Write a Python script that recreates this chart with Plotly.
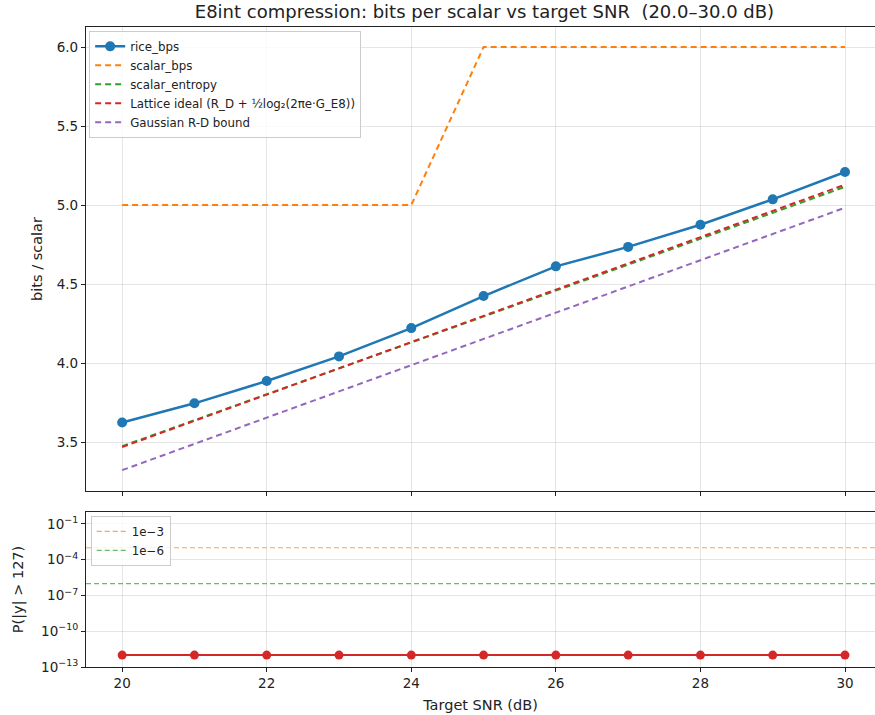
import plotly.graph_objects as go

# Target SNR sweep (dB)
snr_db = [20, 21, 22, 23, 24, 25, 26, 27, 28, 29, 30]

# Bits per scalar for each coder / bound
rice_bps = [3.624, 3.745, 3.886, 4.042, 4.221, 4.424, 4.612, 4.735, 4.875, 5.036, 5.209]
scalar_bps = [5, 5, 5, 5, 5, 6, 6, 6, 6, 6, 6]
scalar_entropy = [3.474, 3.638, 3.802, 3.966, 4.130, 4.294, 4.458, 4.622, 4.786, 4.950, 5.115]
lattice_ideal = [3.468, 3.634, 3.800, 3.966, 4.132, 4.298, 4.464, 4.630, 4.797, 4.963, 5.129]
gaussian_rd = [3.322, 3.488, 3.654, 3.820, 3.986, 4.152, 4.318, 4.484, 4.651, 4.817, 4.983]

# Overflow probability P(|y| > 127)
p_overflow = [1e-12] * 11
ref_levels = [1e-3, 1e-6]
ref_names = ["1e\u22123", "1e\u22126"]

C_BLUE, C_ORANGE, C_GREEN, C_RED, C_PURPLE = "#1f77b4", "#ff7f0e", "#2ca02c", "#d62728", "#9467bd"
FONT = "DejaVu Sans"
GRID = "rgba(0,0,0,0.1)"

fig = go.Figure()

fig.add_trace(go.Scatter(x=snr_db, y=rice_bps, name="rice_bps", mode="lines+markers",
                         line=dict(color=C_BLUE, width=2.5), marker=dict(size=10, color=C_BLUE),
                         xaxis="x", yaxis="y", legend="legend"))
fig.add_trace(go.Scatter(x=snr_db, y=scalar_bps, name="scalar_bps", mode="lines",
                         line=dict(color=C_ORANGE, width=2, dash="6px,4px"),
                         xaxis="x", yaxis="y", legend="legend"))
fig.add_trace(go.Scatter(x=snr_db, y=scalar_entropy, name="scalar_entropy", mode="lines",
                         line=dict(color=C_GREEN, width=2, dash="6px,4px"),
                         xaxis="x", yaxis="y", legend="legend"))
fig.add_trace(go.Scatter(x=snr_db, y=lattice_ideal,
                         name="Lattice ideal (R_D + \u00bdlog\u2082(2\u03c0e\u00b7G_E8))", mode="lines",
                         line=dict(color=C_RED, width=2, dash="6px,4px"),
                         xaxis="x", yaxis="y", legend="legend"))
fig.add_trace(go.Scatter(x=snr_db, y=gaussian_rd, name="Gaussian R-D bound", mode="lines",
                         line=dict(color=C_PURPLE, width=2, dash="6px,4px"),
                         xaxis="x", yaxis="y", legend="legend"))

# Bottom panel: reference levels and overflow probability
for lvl, nm, col in zip(ref_levels, ref_names, [C_ORANGE, C_GREEN]):
    fig.add_trace(go.Scatter(x=[19.5, 30.5], y=[lvl, lvl], name=nm, mode="lines",
                             line=dict(color=col, width=1.2, dash="5px,3px"), opacity=0.7,
                             xaxis="x2", yaxis="y2", legend="legend2"))
fig.add_trace(go.Scatter(x=snr_db, y=p_overflow, name="P(|y|>127)", mode="lines+markers",
                         line=dict(color=C_RED, width=2), marker=dict(size=9, color=C_RED),
                         xaxis="x2", yaxis="y2", showlegend=False))

axis_common = dict(showline=True, linecolor="#222", linewidth=1.2, ticks="outside",
                   ticklen=4, tickcolor="#222", showgrid=True, gridcolor=GRID, gridwidth=1,
                   zeroline=False, tickfont=dict(family=FONT, size=13.5, color="#222"))

fig.update_layout(
    width=875, height=715,
    margin=dict(l=86, r=0, t=27, b=48),
    plot_bgcolor="white", paper_bgcolor="white",
    font=dict(family=FONT, color="#222"),
    title=dict(text="E8int compression: bits per scalar vs target SNR  (20.0\u201330.0 dB)",
               xref="paper", x=0.505, xanchor="center", y=0.983, yanchor="middle",
               font=dict(family=FONT, size=18, color="#222")),
    xaxis=dict(axis_common, domain=[0, 1], range=[19.5, 30.415], tickvals=[20, 22, 24, 26, 28, 30],
               showticklabels=False, mirror=True, anchor="y"),
    yaxis=dict(axis_common, domain=[0.275, 1], range=[3.19, 6.127],
               tickvals=[3.5, 4.0, 4.5, 5.0, 5.5, 6.0], ticktext=["3.5", "4.0", "4.5", "5.0", "5.5", "6.0"],
               title=dict(text="bits / scalar", font=dict(family=FONT, size=14.5), standoff=10),
               anchor="x"),
    xaxis2=dict(axis_common, domain=[0, 1], range=[19.5, 30.415], tickvals=[20, 22, 24, 26, 28, 30],
                mirror=True, anchor="y2",
                title=dict(text="Target SNR (dB)", font=dict(family=FONT, size=14.5), standoff=9)),
    yaxis2=dict(axis_common, domain=[0, 0.2422], type="log", range=[-13, 0],
                tickvals=[1e-13, 1e-10, 1e-7, 1e-4, 1e-1],
                ticktext=["10<sup>\u221213</sup>", "10<sup>\u221210</sup>", "10<sup>\u22127</sup>",
                          "10<sup>\u22124</sup>", "10<sup>\u22121</sup>"],
                title=dict(text="P(|y| > 127)", font=dict(family=FONT, size=14.5), standoff=14),
                anchor="x2"),
    legend=dict(x=0.004, y=0.994, xanchor="left", yanchor="top",
                bgcolor="rgba(255,255,255,0.8)", bordercolor="#ccc", borderwidth=1,
                font=dict(family=FONT, size=11.8, color="#222"), tracegroupgap=0, itemwidth=30),
    legend2=dict(x=0.006, y=0.236, xanchor="left", yanchor="top",
                 bgcolor="rgba(255,255,255,0.8)", bordercolor="#ccc", borderwidth=1,
                 font=dict(family=FONT, size=11.8, color="#222"), tracegroupgap=0, itemwidth=30),
)

fig.write_html("out.html")
